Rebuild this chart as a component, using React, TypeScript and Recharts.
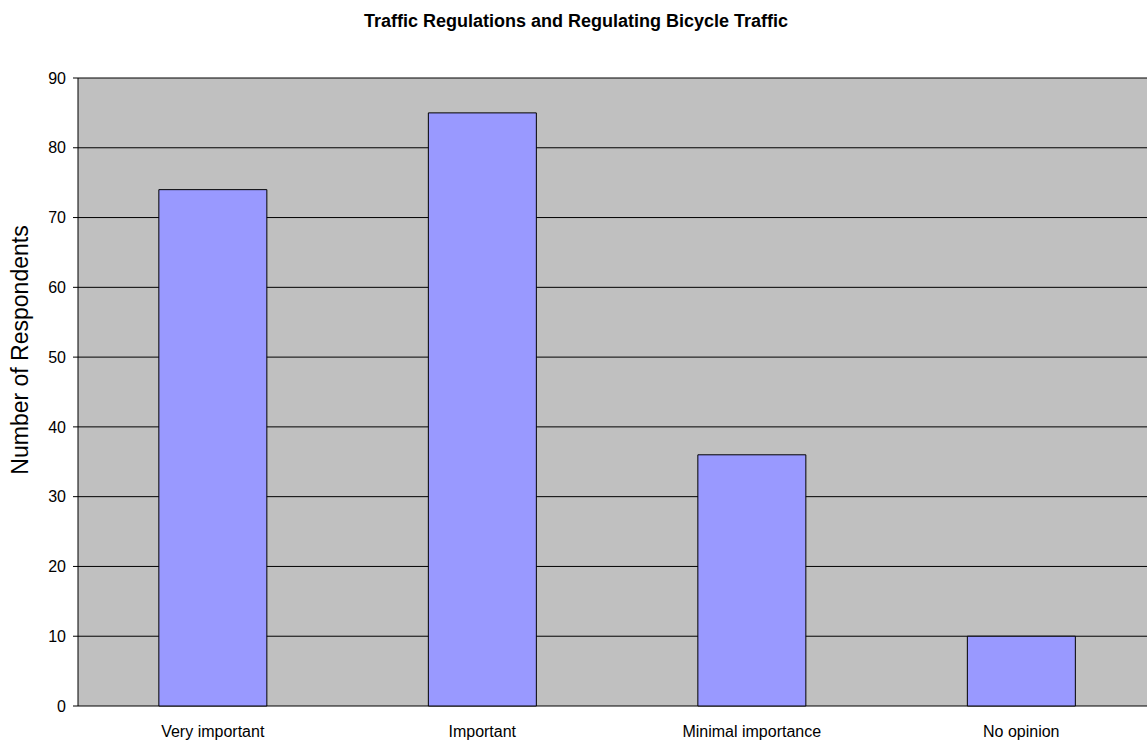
import React from 'react';
import {
  BarChart, Bar, XAxis, YAxis, CartesianGrid,
} from 'recharts';

const categories = ['Very important', 'Important', 'Minimal importance', 'No opinion'];
const respondents = [74, 85, 36, 10];
const yTicks = [0, 10, 20, 30, 40, 50, 60, 70, 80, 90];
const boundaryTicks = [0, 1, 2, 3, 4];

const chartData = categories.map((name, i) => ({ name, value: respondents[i] }));

const font = '"Liberation Sans", Arial, sans-serif';

const App: React.FC = () => {
  return (
    <div style={{ position: 'absolute', left: 0, top: 0, width: 1147, height: 745, overflow: 'hidden', background: '#fff', fontFamily: font }}>
      <div style={{ position: 'absolute', top: 11, left: 0, width: 1152, textAlign: 'center', fontSize: 18, fontWeight: 'bold', color: '#000' }}>
        Traffic Regulations and Regulating Bicycle Traffic
      </div>
      <div style={{ position: 'absolute', left: 20, top: 350, transform: 'translate(-50%, -50%) rotate(-90deg)', fontSize: 23, whiteSpace: 'nowrap', color: '#000' }}>
        Number of Respondents
      </div>
      <div style={{ position: 'absolute', left: 0, top: 0 }}>
        <BarChart
          width={1160}
          height={745}
          data={chartData}
          margin={{ top: 78, right: 4, bottom: 0, left: 0 }}
          barCategoryGap="30%"
        >
          <CartesianGrid vertical={false} stroke="#000" strokeWidth={1} fill="#C0C0C0" fillOpacity={1} />
          <XAxis
            xAxisId="edges"
            type="number"
            domain={[0, 4]}
            allowDataOverflow
            ticks={boundaryTicks}
            tickFormatter={() => ''}
            height={0}
            tickSize={5}
            axisLine={{ stroke: '#000' }}
            tickLine={{ stroke: '#000' }}
          />
          <XAxis
            xAxisId="cat"
            dataKey="name"
            height={39}
            axisLine={false}
            tickLine={false}
            tickSize={0}
            tickMargin={20}
            interval={0}
            tick={{ fontSize: 16, fill: '#000', fontFamily: font }}
          />
          <YAxis
            width={78}
            domain={[0, 90]}
            ticks={yTicks}
            interval={0}
            tickSize={5}
            tickMargin={7}
            axisLine={{ stroke: '#000' }}
            tickLine={{ stroke: '#000' }}
            tick={{ fontSize: 16, fill: '#000', fontFamily: font }}
          />
          <Bar xAxisId="cat" dataKey="value" fill="#9999FF" stroke="#000" strokeWidth={1} isAnimationActive={false} />
        </BarChart>
      </div>
    </div>
  );
};

export default App;
